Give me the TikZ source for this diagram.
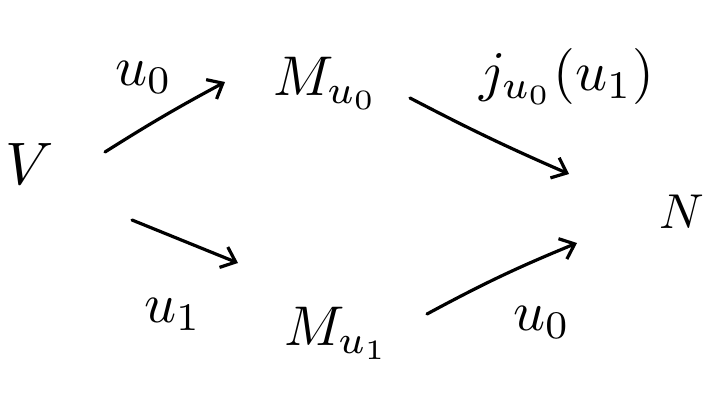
\documentclass[tikz,border=0pt]{standalone}
\usetikzlibrary{arrows.meta}
\begin{document}
\begin{tikzpicture}[x=1pt,y=-1pt,
  lbl/.style={inner sep=0pt,anchor=base west,scale=5.6},
  arr/.style={line width=3.2pt,line cap=round,-{Straight Barb[length=13pt,width=22pt,line width=3.2pt]}}]
\useasboundingbox (0,0) rectangle (704,397);
\node[inner sep=0pt,scale=6] (V) at (30,164) {$V$};
\node[lbl] (Mu0) at (272,95) {$M_{u_0}$};
\node[lbl] (lu0) at (114,85) {$u_0$};
\node[lbl] (ljm) at (478,90) {$j_{u_0}(u_1)$};
\node[lbl,scale=4.9/5.6] (N) at (659,228) {$N$};
\node[lbl] (lu1) at (143,322) {$u_1$};
\node[lbl] (Mu1) at (283,345) {$M_{u_1}$};
\node[lbl] (lu0b) at (512,330) {$u_0$};
\coordinate (a1s) at (105,152); \coordinate (a1e) at (225,82);
\coordinate (a2s) at (410,98);  \coordinate (a2e) at (569,174);
\coordinate (a3s) at (132,220); \coordinate (a3e) at (238,263);
\coordinate (a4s) at (427,314); \coordinate (a4e) at (577,243);
\draw[arr] (a1s) to[bend left=2] (a1e);
\draw[arr] (a2s) to[bend right=2] (a2e);
\draw[arr] (a3s) -- (a3e);
\draw[arr] (a4s) to[bend left=3] (a4e);
\end{tikzpicture}
\end{document}
